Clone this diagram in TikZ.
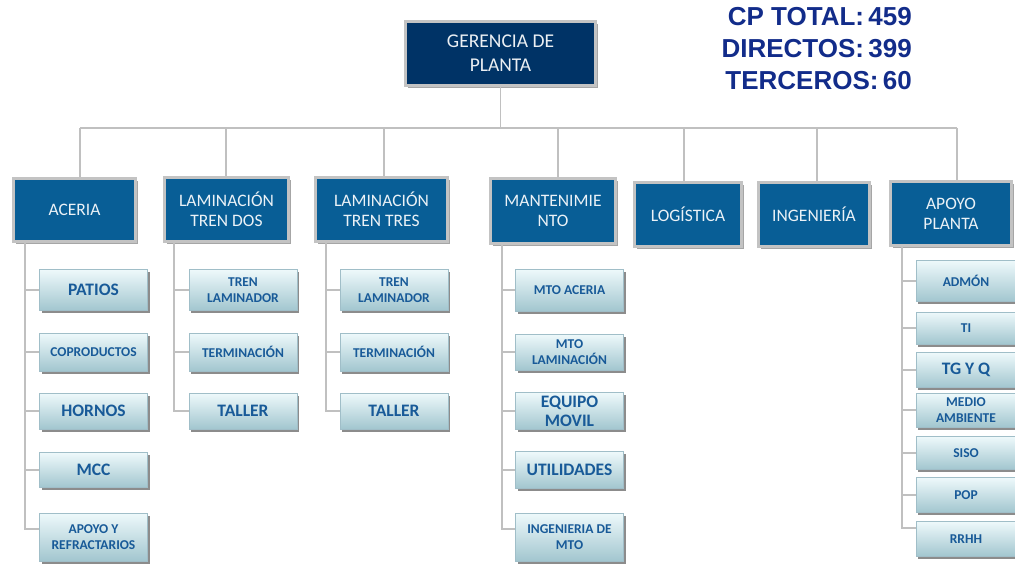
\documentclass[tikz,border=0pt]{standalone}
\usepackage{fontspec}
\setmainfont{Carlito}
\newfontfamily\statfont{Liberation Sans}
\usetikzlibrary{shadows}
\definecolor{navy}{RGB}{0,51,102}
\definecolor{lvone}{RGB}{8,94,150}
\definecolor{framegray}{RGB}{195,195,195}
\definecolor{linegray}{RGB}{192,192,192}
\definecolor{lvtwotxt}{RGB}{24,90,152}
\definecolor{stat}{RGB}{18,44,138}
\definecolor{lighttop}{RGB}{238,249,251}
\definecolor{lightmid}{RGB}{206,235,241}
\definecolor{lightbot}{RGB}{162,198,207}
\definecolor{lightdraw}{RGB}{160,190,200}
\begin{document}
\begin{tikzpicture}[x=1pt,y=-1pt,
  conn/.style={draw=linegray, line width=1.8pt},
  topbox/.style={draw=framegray, line width=3pt, fill=navy, text=white!92!navy, align=center, inner sep=0pt,
    font=\fontsize{19.5}{24}\selectfont,
    drop shadow={shadow xshift=2pt, shadow yshift=-2pt, opacity=0.35, fill=black}},
  onebox/.style={draw=framegray, line width=3pt, fill=lvone, text=white!92!lvone, align=center, inner sep=0pt,
    font=\fontsize{17.5}{20}\selectfont,
    drop shadow={shadow xshift=2pt, shadow yshift=-2pt, opacity=0.35, fill=black}},
  twobox/.style={draw=lightdraw, line width=0.6pt, top color=lighttop, middle color=lightmid, bottom color=lightbot, text=lvtwotxt,
    align=center, inner sep=0pt, minimum width=108pt,
    drop shadow={shadow xshift=2pt, shadow yshift=-2.5pt, opacity=0.45, fill=black}},
  big/.style={font=\bfseries\fontsize{17.5}{19}\selectfont},
  small/.style={font=\bfseries\fontsize{13.5}{16}\selectfont},
  stattext/.style={text=stat, anchor=east, inner sep=0pt, font=\statfont\bfseries\fontsize{26}{30}\selectfont}
]
\useasboundingbox (0,0) rectangle (1015,563);

% top
\node[topbox, minimum width=190pt, minimum height=64pt] (ger) at (500.5,53.5) {GERENCIA DE\\PLANTA};
\node[stattext] (s1) at (912,17) {CP TOTAL:\,459};
\node[stattext] (s2) at (912,49) {DIRECTOS:\,399};
\node[stattext] (s3) at (912,81) {TERCEROS:\,60};

% level 1
\node[onebox, minimum width=122pt, minimum height=63pt] (aceria) at (74.5,210) {ACERIA};
\node[onebox, minimum width=124pt, minimum height=64pt] (lamdos) at (226.5,209.5) {LAMINACIÓN\\TREN DOS};
\node[onebox, minimum width=132pt, minimum height=64pt] (lamtres) at (381.5,209.5) {LAMINACIÓN\\TREN TRES};
\node[onebox, minimum width=125pt, minimum height=65pt] (mant) at (553,211) {MANTENIMIE\\NTO};
\node[onebox, minimum width=107pt, minimum height=64pt] (log) at (688,214.5) {LOGÍSTICA};
\node[onebox, minimum width=111pt, minimum height=64pt] (ing) at (814,214.5) {INGENIERÍA};
\node[onebox, minimum width=121pt, minimum height=64pt] (apoyo) at (951,213.5) {APOYO\\PLANTA};

% bus
\coordinate (busL) at (80,128);
\coordinate (busR) at (957,128);
\coordinate (d1) at (80,128);
\coordinate (d2) at (226,128);
\coordinate (d3) at (384,128);
\coordinate (d4) at (558,128);
\coordinate (d5) at (684,128);
\coordinate (d6) at (817,128);
\coordinate (d7) at (957,128);
\draw[conn] (ger.south) -- (ger.south |- busL);
\draw[conn] (busL) -- (busR);
\draw[conn] (d1) -- (d1 |- aceria.north);
\draw[conn] (d2) -- (d2 |- lamdos.north);
\draw[conn] (d3) -- (d3 |- lamtres.north);
\draw[conn] (d4) -- (d4 |- mant.north);
\draw[conn] (d5) -- (d5 |- log.north);
\draw[conn] (d6) -- (d6 |- ing.north);
\draw[conn] (d7) -- (d7 |- apoyo.north);

% ACERIA column
\node[twobox, big, minimum height=41pt] (patios) at (93.5,290) {PATIOS};
\node[twobox, small, minimum height=38pt] (coprod) at (93.5,352) {COPRODUCTOS};
\node[twobox, big, minimum height=36pt] (hornos) at (93.5,411) {HORNOS};
\node[twobox, big, minimum height=35pt] (mcc) at (93.5,470) {MCC};
\node[twobox, small, minimum height=48pt] (apref) at (93.5,537) {APOYO Y\\REFRACTARIOS};
\coordinate (a0) at (25,243);
\coordinate (a5) at (25,529);
\draw[conn] (a0) |- (patios.west);
\draw[conn] (a0) |- (coprod.west);
\draw[conn] (a0) |- (hornos.west);
\draw[conn] (a0) |- (mcc.west);
\draw[conn] (a0) -- (a5) -- (a5 -| apref.west);

% LAM DOS column
\node[twobox, small, minimum height=41pt] (tlam2) at (243,290) {TREN\\LAMINADOR};
\node[twobox, small, minimum height=38pt] (term2) at (243,352) {TERMINACIÓN};
\node[twobox, big, minimum height=36pt] (tall2) at (243,411) {TALLER};
\coordinate (b0) at (174,243);
\draw[conn] (b0) |- (tlam2.west);
\draw[conn] (b0) |- (term2.west);
\draw[conn] (b0) |- (tall2.west);

% LAM TRES column
\node[twobox, small, minimum height=41pt] (tlam3) at (394,290) {TREN\\LAMINADOR};
\node[twobox, small, minimum height=38pt] (term3) at (394,352) {TERMINACIÓN};
\node[twobox, big, minimum height=36pt] (tall3) at (394,411) {TALLER};
\coordinate (c0) at (326,243);
\draw[conn] (c0) |- (tlam3.west);
\draw[conn] (c0) |- (term3.west);
\draw[conn] (c0) |- (tall3.west);

% MANT column
\node[twobox, small, minimum height=42pt] (mtoac) at (569.5,290) {MTO ACERIA};
\node[twobox, small, minimum height=36pt] (mtolam) at (569.5,352) {MTO\\LAMINACIÓN};
\node[twobox, big, minimum height=37pt] (equipo) at (569.5,411) {EQUIPO\\MOVIL};
\node[twobox, big, minimum height=37pt] (util) at (569.5,470) {UTILIDADES};
\node[twobox, small, minimum height=48pt] (ingmto) at (569.5,537) {INGENIERIA DE\\MTO};
\coordinate (m0) at (502,245);
\coordinate (m5) at (502,529);
\draw[conn] (m0) |- (mtoac.west);
\draw[conn] (m0) |- (mtolam.west);
\draw[conn] (m0) |- (equipo.west);
\draw[conn] (m0) |- (util.west);
\draw[conn] (m0) -- (m5) -- (m5 -| ingmto.west);

% APOYO column
\node[twobox, small, minimum width=100pt, minimum height=41pt] (admon) at (966,281) {ADMÓN};
\node[twobox, small, minimum width=100pt, minimum height=32pt] (ti) at (966,328) {TI};
\node[twobox, big, minimum width=100pt, minimum height=35pt] (tgyq) at (966,370) {TG Y Q};
\node[twobox, small, minimum width=100pt, minimum height=34pt] (medio) at (966,410) {MEDIO\\AMBIENTE};
\node[twobox, small, minimum width=100pt, minimum height=33pt] (siso) at (966,453) {SISO};
\node[twobox, small, minimum width=100pt, minimum height=35pt] (pop) at (966,495) {POP};
\node[twobox, small, minimum width=100pt, minimum height=35pt] (rrhh) at (966,539) {RRHH};
\coordinate (p0) at (902,247);
\coordinate (p7) at (902,528);
\draw[conn] (p0) |- (admon.west);
\draw[conn] (p0) |- (ti.west);
\draw[conn] (p0) |- (tgyq.west);
\draw[conn] (p0) |- (medio.west);
\draw[conn] (p0) |- (siso.west);
\draw[conn] (p0) |- (pop.west);
\draw[conn] (p0) -- (p7) -- (p7 -| rrhh.west);
\end{tikzpicture}
\end{document}
